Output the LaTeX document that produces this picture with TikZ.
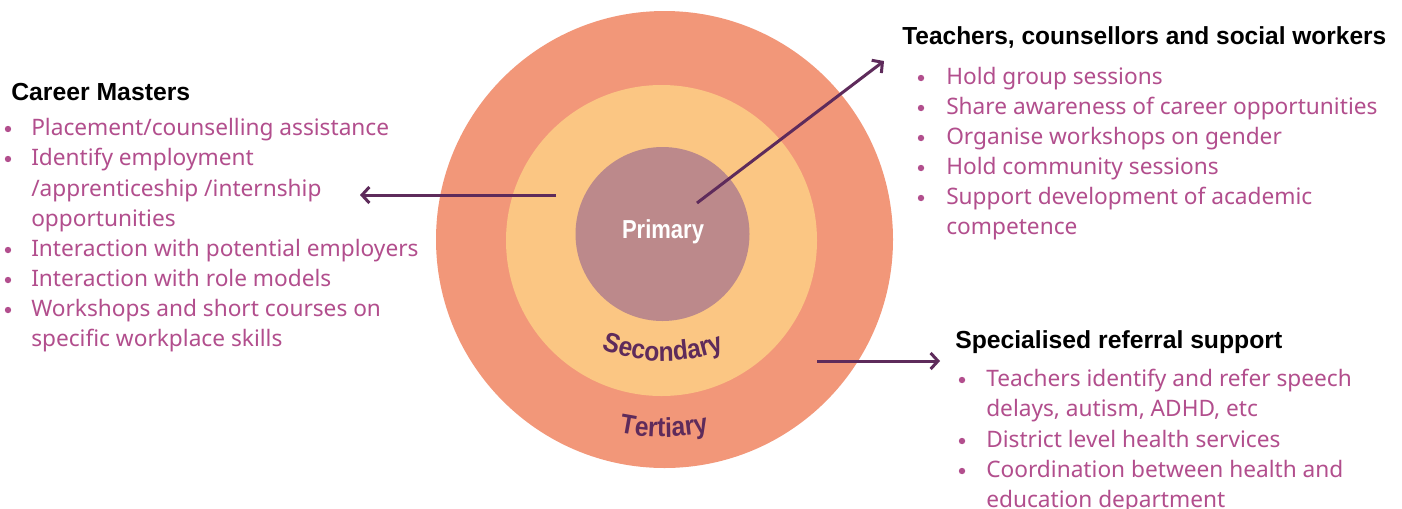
\documentclass[tikz,border=0pt]{standalone}
\usepackage{fontspec}
\usepackage{graphicx}
\setmainfont{Noto Sans}
\newfontfamily\headfont{Liberation Sans}
\newfontfamily\ringfont[FakeStretch=0.9]{Liberation Sans}
\usetikzlibrary{arrows.meta,decorations.text}

\definecolor{ringout}{HTML}{F29779}
\definecolor{ringmid}{HTML}{FBC683}
\definecolor{ringin}{HTML}{BC898B}
\definecolor{listpink}{HTML}{B24E8D}
\definecolor{plum}{HTML}{5E2B5B}

% heading squeezed or stretched to a fixed width, height kept
\newcommand\fitto[2]{\resizebox{#1}{\height}{#2}}
\newcommand\ringlabel{\ringfont\bfseries\fontsize{20.5}{22}\selectfont\color{plum}}

\begin{document}
\begin{tikzpicture}[x=0.75pt,y=0.75pt,
  ring/.style={circle,inner sep=0pt,draw=none},
  heading/.style={anchor=base west,inner sep=0pt,text=black,
    font=\headfont\bfseries\fontsize{18.5}{20}\selectfont},
  item/.style={anchor=base west,inner sep=0pt,text=listpink,
    font=\fontsize{17}{20}\selectfont},
  bullet/.style={fill=listpink},
  link/.style={draw=plum,line width=2.25pt,
    -{Straight Barb[length=5.5pt,width=12pt]}}]

\useasboundingbox (0,-508) rectangle (1402,0);
\fill[white] (0,-508) rectangle (1402,0);

% concentric rings
\node[ring,fill=ringout,minimum size=342.75pt] (tertiary) at (664.5,-239.5) {};
\node[ring,fill=ringmid,minimum size=233.25pt] (secondary) at (661.5,-240.5) {};
\node[ring,fill=ringin,minimum size=130.5pt] (primary) at (662.5,-234) {};

\node[anchor=base,inner sep=0pt,text=white,
  font=\headfont\bfseries\fontsize{19.5}{20}\selectfont] (primlabel) at (663,-238)
  {\fitto{61.5pt}{Primary}};

% curved ring names
\path[decorate,decoration={text along path,text align=center,
  text={|\ringlabel|Secondary}}]
  (663,-191) ++(230:170) arc[start angle=230,end angle=310,radius=170];
\path[decorate,decoration={text along path,text align=center,
  text={|\ringlabel|Tertiary}}]
  (664,-222) ++(240:215) arc[start angle=240,end angle=300,radius=215];

% arrow anchors
\coordinate (srcL) at (556,-195);
\coordinate (dstL) at (360,-195);
\coordinate (srcT) at (697,-203);
\coordinate (dstT) at (884,-61);
\coordinate (srcB) at (817,-361);
\coordinate (dstB) at (940,-361);

\draw[link] (srcL) -- (dstL);
\draw[link] (srcT) -- (dstT);
\draw[link] (srcB) -- (dstB);

% Career Masters
\node[heading] (cmhead) at (11,-100) {\fitto{134.25pt}{Career Masters}};
\node[item] (cm1) at (31,-135) {Placement/counselling assistance};
\node[item] (cm2) at (31,-165) {Identify employment};
\node[item] (cm2b) at (31,-196) {/apprenticeship /internship};
\node[item] (cm2c) at (31,-226) {opportunities};
\node[item] (cm3) at (31,-256) {Interaction with potential employers};
\node[item] (cm4) at (31,-286) {Interaction with role models};
\node[item] (cm5) at (31,-316) {Workshops and short courses on};
\node[item] (cm5b) at (31,-346) {specific workplace skills};
\foreach \y in {135,165,256,286,316}
  \fill[bullet] (8,-\y+6) circle[radius=3.2];

% Teachers, counsellors and social workers
\node[heading] (tchead) at (902,-44) {\fitto{363pt}{Teachers, counsellors and social workers}};
\node[item] (tc1) at (946,-84) {Hold group sessions};
\node[item] (tc2) at (946,-114) {Share awareness of career opportunities};
\node[item] (tc3) at (946,-144) {Organise workshops on gender};
\node[item] (tc4) at (946,-174) {Hold community sessions};
\node[item] (tc5) at (946,-204) {Support development of academic};
\node[item] (tc5b) at (946,-234) {competence};
\foreach \y in {84,114,144,174,204}
  \fill[bullet] (921,-\y+6) circle[radius=3.2];

% Specialised referral support
\node[heading] (srhead) at (955,-348) {\fitto{245.25pt}{Specialised referral support}};
\node[item] (sr1) at (986,-386) {Teachers identify and refer speech};
\node[item] (sr1b) at (986,-416) {delays, autism, ADHD, etc};
\node[item] (sr2) at (986,-447) {District level health services};
\node[item] (sr3) at (986,-477) {Coordination between health and};
\node[item] (sr3b) at (986,-507) {education department};
\foreach \y in {386,447,477}
  \fill[bullet] (962,-\y+6) circle[radius=3.2];
\end{tikzpicture}
\end{document}
